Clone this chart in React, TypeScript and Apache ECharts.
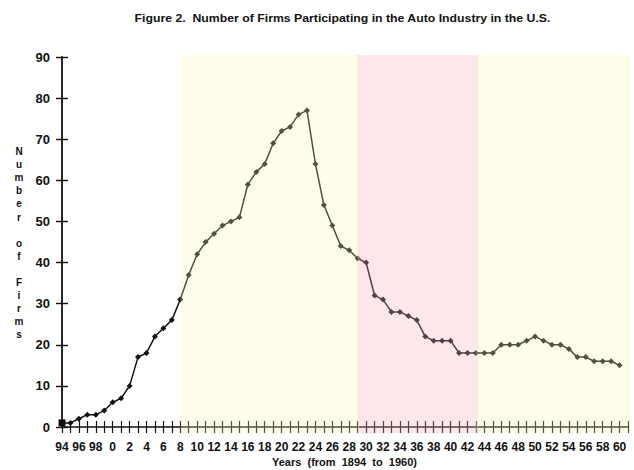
import React, { useEffect, useRef } from "react";
import * as echarts from "echarts";

const years: number[] = [
  1894, 1895, 1896, 1897, 1898, 1899, 1900, 1901, 1902, 1903, 1904, 1905, 1906, 1907,
  1908, 1909, 1910, 1911, 1912, 1913, 1914, 1915, 1916, 1917, 1918, 1919, 1920, 1921,
  1922, 1923, 1924, 1925, 1926, 1927, 1928, 1929, 1930, 1931, 1932, 1933, 1934, 1935,
  1936, 1937, 1938, 1939, 1940, 1941, 1942, 1943, 1944, 1945, 1946, 1947, 1948, 1949,
  1950, 1951, 1952, 1953, 1954, 1955, 1956, 1957, 1958, 1959, 1960,
];
const firms: number[] = [
  1, 1, 2, 3, 3, 4, 6, 7, 10, 17, 18, 22, 24, 26,
  31, 37, 42, 45, 47, 49, 50, 51, 59, 62, 64, 69, 72, 73,
  76, 77, 64, 54, 49, 44, 43, 41, 40, 32, 31, 28, 28, 27,
  26, 22, 21, 21, 21, 18, 18, 18, 18, 18, 20, 20, 20, 21,
  22, 21, 20, 20, 19, 17, 17, 16, 16, 16, 15,
];
// shaded periods: [start year, end year, colour index]
const bandStarts: number[] = [1908, 1929, 1943];
const bandEnds: number[] = [1929, 1943, 1961];
const bandKinds: number[] = [0, 1, 0];
const bandColors: string[] = ["rgba(248,248,175,0.28)", "rgba(250,175,188,0.3)"];

const xMin = 1894;
const xMax = 1961;
const yMin = 0;
const yMax = 90;
const yStep = 10;

const title = "Figure 2.  Number of Firms Participating in the Auto Industry in the U.S.";
const xName = "Years  (from  1894  to  1960)";
const yNameLetters = ["N", "u", "m", "b", "e", "r", "", "o", "f", "", "F", "i", "r", "m", "s"];

export default function App() {
  const ref = useRef<HTMLDivElement>(null);
  useEffect(() => {
    if (!ref.current) return;
    const chart = echarts.init(ref.current, null, { renderer: "svg" });
    const font = "'Liberation Sans', Arial, Helvetica, sans-serif";
    const lineData = years.map((y, i) =>
      i === 0
        ? { value: [y, firms[i]], symbol: "rect", symbolSize: 7 }
        : { value: [y, firms[i]] }
    );
    const bandData = bandStarts.map((s, i) => [s, bandEnds[i], bandKinds[i]]);
    const xLabel = (v: number) => (v % 2 === 0 && v <= 1960 ? String(v % 100) : "");
    const axisCommonX = {
      type: "value" as const,
      min: xMin,
      max: xMax,
      interval: 1,
      position: "bottom" as const,
      splitLine: { show: false },
    };
    const axisCommonY = {
      type: "value" as const,
      min: yMin,
      max: yMax,
      interval: yStep,
      position: "left" as const,
      splitLine: { show: false },
    };
    chart.setOption({
      animation: false,
      backgroundColor: "#ffffff",
      grid: { left: 62, right: 6, top: 57, bottom: 43 },
      xAxis: [
        {
          ...axisCommonX,
          axisLine: { show: true, lineStyle: { color: "#111", width: 1.5 } },
          axisTick: { show: true, length: 6, lineStyle: { color: "#111", width: 1.2 } },
          axisLabel: {
            formatter: xLabel,
            margin: 14,
            fontFamily: font,
            fontWeight: "bold",
            fontSize: 12,
            color: "#111",
          },
        },
        {
          ...axisCommonX,
          axisLine: { show: false },
          axisTick: { show: true, inside: true, length: 6, lineStyle: { color: "#111", width: 1.2 } },
          axisLabel: { show: false },
        },
      ],
      yAxis: [
        {
          ...axisCommonY,
          axisLine: { show: true, lineStyle: { color: "#111", width: 1.8 } },
          axisTick: { show: true, length: 6, lineStyle: { color: "#111", width: 1.4 } },
          axisLabel: {
            margin: 12,
            fontFamily: font,
            fontWeight: "bold",
            fontSize: 13,
            color: "#111",
          },
        },
        {
          ...axisCommonY,
          axisLine: { show: false },
          axisTick: { show: true, inside: true, length: 6, lineStyle: { color: "#111", width: 1.4 } },
          axisLabel: { show: false },
        },
      ],
      graphic: [
        {
          type: "text",
          x: 342.5,
          y: 18,
          scaleX: 1.17,
          style: {
            text: title,
            fontFamily: font,
            fontWeight: "bold",
            fontSize: 10.5,
            align: "center",
            verticalAlign: "middle",
            fill: "#111",
          },
        },
        {
          type: "text",
          left: 342 - 70,
          top: 456,
          style: {
            text: xName,
            fontFamily: font,
            fontWeight: "bold",
            fontSize: 11,
            fill: "#111",
          },
        },
        {
          type: "text",
          x: 19,
          y: 145,
          style: {
            text: yNameLetters.join("\n"),
            fontFamily: font,
            fontWeight: "bold",
            fontSize: 10,
            lineHeight: 13.1,
            align: "center",
            verticalAlign: "top",
            fill: "#111",
          },
        },
      ],
      series: [
        {
          type: "line",
          data: lineData,
          xAxisIndex: 0,
          yAxisIndex: 0,
          symbol: "diamond",
          symbolSize: 6,
          showSymbol: true,
          lineStyle: { color: "#111", width: 1.5 },
          itemStyle: { color: "#111" },
          z: 2,
        },
        {
          type: "custom",
          xAxisIndex: 0,
          yAxisIndex: 0,
          data: bandData,
          encode: { x: [0, 1], y: 2 },
          silent: true,
          z: 5,
          renderItem: (params: any, api: any) => {
            const s = api.value(0);
            const e = api.value(1);
            const k = api.value(2);
            const p0 = api.coord([s, yMax]);
            const p1 = api.coord([e, yMin]);
            return {
              type: "rect",
              shape: {
                x: p0[0],
                y: p0[1] - 2,
                width: p1[0] - p0[0] + 2,
                height: p1[1] - p0[1] + 8,
              },
              style: { fill: bandColors[k] },
            };
          },
        },
      ],
    });
    return () => chart.dispose();
  }, []);
  return (
    <div
      ref={ref}
      style={{ position: "fixed", left: 0, top: 0, width: 634, height: 470 }}
    />
  );
}
